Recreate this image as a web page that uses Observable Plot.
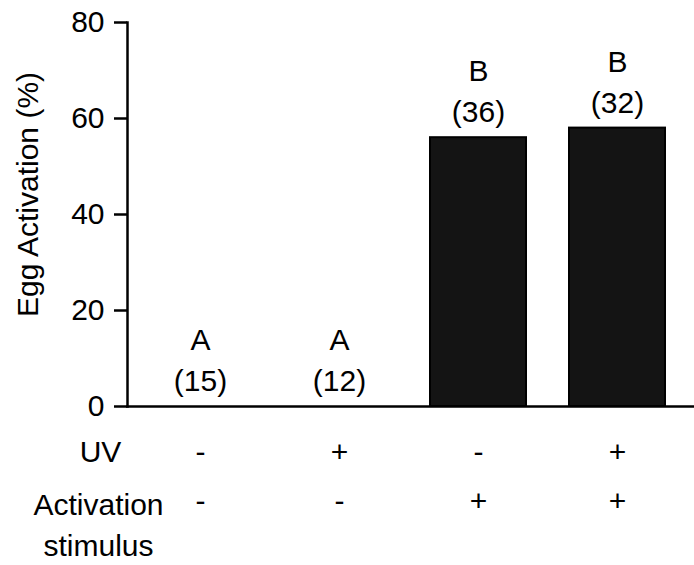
<!DOCTYPE html>
<html>
<head>
<meta charset="utf-8">
<script src="https://cdn.jsdelivr.net/npm/d3@7"></script>
<script src="https://cdn.jsdelivr.net/npm/@observablehq/plot@0.6"></script>
<style>
  html, body { margin: 0; padding: 0; background: #fff; }
</style>
</head>
<body>
<div id="chart"></div>
<script>
const categories = ["c1", "c2", "c3", "c4"];
const values = [0, 0, 56, 58];
const groupLetters = ["A", "A", "B", "B"];
const sampleSizes = ["(15)", "(12)", "(36)", "(32)"];
const uvSigns = ["-", "+", "-", "+"];
const stimulusSigns = ["-", "-", "+", "+"];
const rowLabels = ["UV", "Activation\nstimulus"];
const yTicks = [0, 20, 40, 60, 80];
const yLabel = "Egg Activation (%)";

const data = categories.map((c, i) => ({
  cat: c, value: values[i], letter: groupLetters[i], n: sampleSizes[i],
  uv: uvSigns[i], stim: stimulusSigns[i]
}));

const FS = 30;
const chart = Plot.plot({
  width: 694,
  height: 565,
  marginLeft: 127,
  marginRight: 3,
  marginTop: 22,
  marginBottom: 159,
  style: { fontFamily: "'Liberation Sans', Arial, sans-serif", fontSize: FS + "px", color: "#000", background: "#fff" },
  x: { domain: categories, paddingInner: 0.307, paddingOuter: 0.168, axis: null },
  y: { domain: [0, 80], axis: null },
  marks: [
    Plot.barY(data, { x: "cat", y: "value", fill: "#141414", stroke: "#000", strokeWidth: 2 }),
    Plot.frame({ anchor: "left", stroke: "#000", strokeWidth: 2.5 }),
    Plot.frame({ anchor: "bottom", stroke: "#000", strokeWidth: 2.5, insetRight: -3 }),
    Plot.axisY({ ticks: yTicks, tickSize: 13, tickPadding: 10, tickFormat: d3.format("d"), strokeWidth: 2.5, fontSize: FS, label: null }),
    Plot.text([yLabel], { frameAnchor: "left", textAnchor: "middle", rotate: -90, dx: -99, dy: -20, fontSize: FS, fill: "#000" }),
    Plot.text(data, { x: "cat", y: "value", text: "letter", dy: -66, fontSize: FS, fill: "#000" }),
    Plot.text(data, { x: "cat", y: "value", text: "n", dy: -25, fontSize: FS, fill: "#000" }),
    Plot.text(data, { x: "cat", y: () => 0, text: "uv", dy: 46, fontSize: FS, fill: "#000" }),
    Plot.text(data, { x: "cat", y: () => 0, text: "stim", dy: 95, fontSize: FS, fill: "#000" }),
    Plot.text([rowLabels[0]], { frameAnchor: "bottom-left", textAnchor: "middle", lineAnchor: "middle", dx: -27, dy: 46, fontSize: FS, fill: "#000" }),
    Plot.text([rowLabels[1]], { frameAnchor: "bottom-left", textAnchor: "middle", lineAnchor: "middle", dx: -29, dy: 116, lineHeight: 1.35, fontSize: FS, fill: "#000" })
  ]
});
document.getElementById("chart").appendChild(chart);
</script>
</body>
</html>
